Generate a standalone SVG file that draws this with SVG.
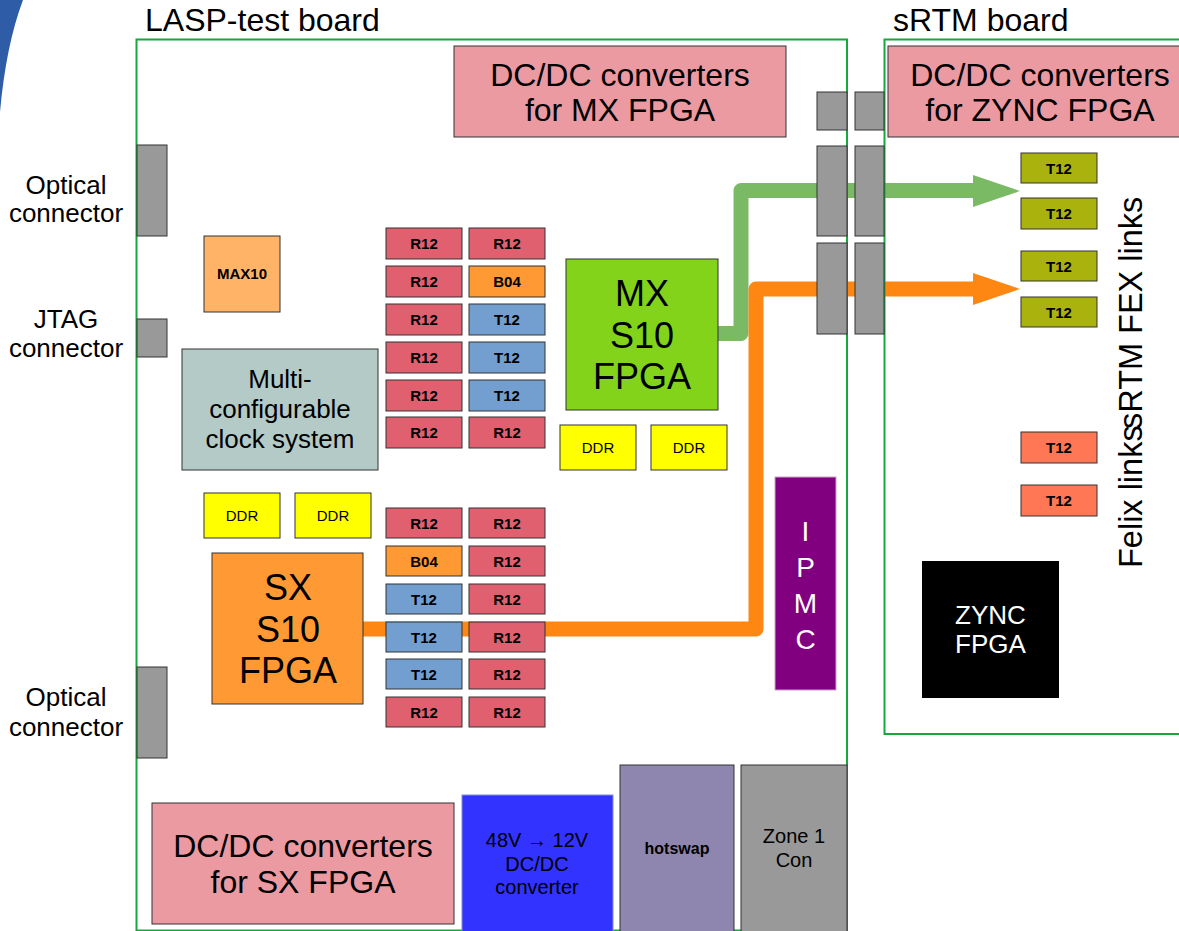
<svg xmlns="http://www.w3.org/2000/svg" width="1179" height="931" viewBox="0 0 1179 931">
<style>
text{font-family:"Liberation Sans",Arial,sans-serif;fill:#000}
.title{font-size:32px}
.lbl{font-size:26px;text-anchor:middle}
.big{font-size:36px;text-anchor:middle}
.dc{font-size:32px;text-anchor:middle}
.chip{font-size:15px;font-weight:bold;text-anchor:middle}
.ddr{font-size:15px;text-anchor:middle}
.mid{text-anchor:middle}
.box{stroke:#333;stroke-width:1}
.r12{fill:#e06070}
.t12{fill:#729fcf}
.b04{fill:#ff9933}
.ol{fill:#aab20e}
.or{fill:#ff7755}
.yel{fill:#ffff00}
.gry{fill:#999999}
.pink{fill:#ec9aa2}
.board{fill:none;stroke:#16a83c;stroke-width:2}
</style>
<rect width="1179" height="931" fill="#fff"/>
<path d="M0,0 L23,0 Q6,45 0,112 Z" fill="#2e5ca6"/>
<text class="title" x="145" y="31">LASP-test board</text>
<text class="title" x="893" y="31">sRTM board</text>

<g id="connectors">
<path d="M718,333.5 L741,333.5 L741,190.5 L975,190.5" fill="none" stroke="#7aba64" stroke-width="15" stroke-linejoin="round"/>
<polygon points="973,175 1020,191 973,207" fill="#7aba64"/>
<path d="M363,629 L756,629 L756,289 L975,289" fill="none" stroke="#fd8712" stroke-width="15" stroke-linejoin="round"/>
<polygon points="973,273 1020,289 973,305" fill="#fd8712"/>
</g>

<g id="lasp-board"><rect class="board" x="136.5" y="39.5" width="710.5" height="891"/></g>
<g id="srtm-board"><rect class="board" x="884.5" y="39.5" width="320" height="694.5"/></g>

<g id="dcdc-mx"><rect class="box pink" x="454" y="46" width="332" height="91"/>
<text class="dc" x="620" y="86">DC/DC converters</text><text class="dc" x="620" y="121">for MX FPGA</text></g>
<g id="dcdc-zync"><rect class="box pink" x="888" y="46" width="310" height="91"/>
<text class="dc" x="1040" y="86">DC/DC converters</text><text class="dc" x="1040" y="121">for ZYNC FPGA</text></g>
<g id="dcdc-sx"><rect class="box pink" x="152" y="803" width="302" height="121"/>
<text class="dc" x="303" y="857">DC/DC converters</text><text class="dc" x="303" y="893">for SX FPGA</text></g>

<g id="rtm-conn">
<rect class="box gry" x="817" y="92" width="30" height="38"/>
<rect class="box gry" x="855" y="92" width="29" height="38"/>
<rect class="box gry" x="817" y="146" width="30" height="90"/>
<rect class="box gry" x="855" y="146" width="29" height="90"/>
<rect class="box gry" x="817" y="243" width="30" height="91"/>
<rect class="box gry" x="855" y="243" width="29" height="91"/>
</g>

<g id="optical-top"><rect class="box gry" x="137" y="145" width="30" height="91"/>
<text class="lbl" x="66" y="194">Optical</text><text class="lbl" x="66" y="222">connector</text></g>
<g id="jtag"><rect class="box gry" x="137" y="319" width="30" height="38"/>
<text class="lbl" x="66" y="328">JTAG</text><text class="lbl" x="66" y="357">connector</text></g>
<g id="optical-bottom"><rect class="box gry" x="137" y="667" width="30" height="91"/>
<text class="lbl" x="66" y="706">Optical</text><text class="lbl" x="66" y="736">connector</text></g>

<g id="max10"><rect class="box" fill="#ffb366" x="204" y="236" width="76" height="76"/>
<text class="chip" x="242" y="279">MAX10</text></g>
<g id="clock"><rect class="box" fill="#b3cac7" x="182" y="349" width="196" height="121"/>
<text class="lbl" x="280" y="388">Multi-</text><text class="lbl" x="280" y="418">configurable</text><text class="lbl" x="280" y="448">clock system</text></g>

<g id="mx-fpga"><rect class="box" fill="#83d31a" x="566" y="259" width="152" height="151"/>
<text class="big" x="642" y="306">MX</text><text class="big" x="642" y="348">S10</text><text class="big" x="642" y="389">FPGA</text></g>
<g id="sx-fpga"><rect class="box" fill="#ff9933" x="212" y="553" width="151" height="151"/>
<text class="big" x="288" y="600">SX</text><text class="big" x="288" y="642">S10</text><text class="big" x="288" y="683">FPGA</text></g>

<g id="ddr-mx1"><rect class="box yel" x="560" y="425" width="76" height="45"/><text class="ddr" x="598" y="453">DDR</text></g>
<g id="ddr-mx2"><rect class="box yel" x="651" y="425" width="76" height="45"/><text class="ddr" x="689" y="453">DDR</text></g>
<g id="ddr-sx1"><rect class="box yel" x="204" y="493" width="76" height="45"/><text class="ddr" x="242" y="521">DDR</text></g>
<g id="ddr-sx2"><rect class="box yel" x="295" y="493" width="76" height="45"/><text class="ddr" x="333" y="521">DDR</text></g>

<g id="mx-transceivers">
<rect class="box r12" x="386" y="228" width="76" height="31"/><text class="chip" x="424" y="249">R12</text>
<rect class="box r12" x="469" y="228" width="76" height="31"/><text class="chip" x="507" y="249">R12</text>
<rect class="box r12" x="386" y="266" width="76" height="31"/><text class="chip" x="424" y="287">R12</text>
<rect class="box b04" x="469" y="266" width="76" height="31"/><text class="chip" x="507" y="287">B04</text>
<rect class="box r12" x="386" y="304" width="76" height="31"/><text class="chip" x="424" y="325">R12</text>
<rect class="box t12" x="469" y="304" width="76" height="31"/><text class="chip" x="507" y="325">T12</text>
<rect class="box r12" x="386" y="342" width="76" height="31"/><text class="chip" x="424" y="363">R12</text>
<rect class="box t12" x="469" y="342" width="76" height="31"/><text class="chip" x="507" y="363">T12</text>
<rect class="box r12" x="386" y="380" width="76" height="31"/><text class="chip" x="424" y="401">R12</text>
<rect class="box t12" x="469" y="380" width="76" height="31"/><text class="chip" x="507" y="401">T12</text>
<rect class="box r12" x="386" y="417" width="76" height="31"/><text class="chip" x="424" y="438">R12</text>
<rect class="box r12" x="469" y="417" width="76" height="31"/><text class="chip" x="507" y="438">R12</text>
</g>

<g id="sx-transceivers">
<rect class="box r12" x="386" y="508" width="76" height="30"/><text class="chip" x="424" y="529">R12</text>
<rect class="box r12" x="469" y="508" width="76" height="30"/><text class="chip" x="507" y="529">R12</text>
<rect class="box b04" x="386" y="546" width="76" height="30"/><text class="chip" x="424" y="567">B04</text>
<rect class="box r12" x="469" y="546" width="76" height="30"/><text class="chip" x="507" y="567">R12</text>
<rect class="box t12" x="386" y="584" width="76" height="30"/><text class="chip" x="424" y="605">T12</text>
<rect class="box r12" x="469" y="584" width="76" height="30"/><text class="chip" x="507" y="605">R12</text>
<rect class="box t12" x="386" y="622" width="76" height="30"/><text class="chip" x="424" y="643">T12</text>
<rect class="box r12" x="469" y="622" width="76" height="30"/><text class="chip" x="507" y="643">R12</text>
<rect class="box t12" x="386" y="659" width="76" height="30"/><text class="chip" x="424" y="680">T12</text>
<rect class="box r12" x="469" y="659" width="76" height="30"/><text class="chip" x="507" y="680">R12</text>
<rect class="box r12" x="386" y="697" width="76" height="30"/><text class="chip" x="424" y="718">R12</text>
<rect class="box r12" x="469" y="697" width="76" height="30"/><text class="chip" x="507" y="718">R12</text>
</g>

<g id="ipmc"><rect x="775" y="477" width="61" height="213" fill="#800080" stroke="#c9a3c9" stroke-width="1"/>
<text class="mid" style="font-size:28px;fill:#fff" x="805.5" y="541">I</text>
<text class="mid" style="font-size:28px;fill:#fff" x="805.5" y="577">P</text>
<text class="mid" style="font-size:28px;fill:#fff" x="805.5" y="613">M</text>
<text class="mid" style="font-size:28px;fill:#fff" x="805.5" y="649">C</text></g>

<g id="conv48"><rect x="462" y="795" width="151" height="140" fill="#3333ff" stroke="#7f8fd0" stroke-width="1"/>
<text class="mid" style="font-size:20px" x="537" y="847">48V → 12V</text>
<text class="mid" style="font-size:20px" x="537" y="871">DC/DC</text>
<text class="mid" style="font-size:20px" x="537" y="894">converter</text></g>
<g id="hotswap"><rect class="box" fill="#8e86ae" x="620" y="765" width="114" height="170"/>
<text class="mid" style="font-size:16px;font-weight:bold" x="677" y="854">hotswap</text></g>
<g id="zone1"><rect class="box gry" x="741" y="765" width="106" height="170"/>
<text class="mid" style="font-size:20px" x="794" y="843">Zone 1</text>
<text class="mid" style="font-size:20px" x="794" y="867">Con</text></g>

<g id="fex-t12">
<rect class="box ol" x="1021" y="153" width="76" height="30"/><text class="chip" x="1059" y="174">T12</text>
<rect class="box ol" x="1021" y="198" width="76" height="31"/><text class="chip" x="1059" y="219">T12</text>
<rect class="box ol" x="1021" y="251" width="76" height="30"/><text class="chip" x="1059" y="272">T12</text>
<rect class="box ol" x="1021" y="297" width="76" height="30"/><text class="chip" x="1059" y="318">T12</text>
</g>
<g id="felix-t12">
<rect class="box or" x="1021" y="432" width="76" height="31"/><text class="chip" x="1059" y="453">T12</text>
<rect class="box or" x="1021" y="485" width="76" height="31"/><text class="chip" x="1059" y="506">T12</text>
</g>
<g id="zync"><rect x="922" y="561" width="137" height="137" fill="#000"/>
<text class="mid" style="font-size:26px;fill:#fff" x="990.5" y="624">ZYNC</text>
<text class="mid" style="font-size:26px;fill:#fff" x="990.5" y="653">FPGA</text></g>

<g id="side-labels">
<text style="font-size:32.5px" transform="translate(1142,568) rotate(-90)">Felix links</text>
<text style="font-size:32.5px" transform="translate(1142,429) rotate(-90)">sRTM FEX links</text>
</g>
</svg>
